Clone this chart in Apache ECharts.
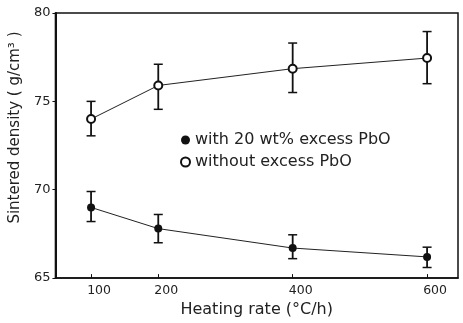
<!DOCTYPE html>
<html><head><meta charset="utf-8">
<script src="https://cdn.jsdelivr.net/npm/echarts@6/dist/echarts.min.js"></script>
<style>html,body{margin:0;padding:0;background:#fff}#c{width:463px;height:323px}</style>
</head><body><div id="c"></div>
<script>
var rates = [100, 200, 400, 600];
var xTicks = [100, 200, 400, 600];
var withPbO = [69.0, 67.8, 66.7, 66.2];
var withPbOLow = [68.2, 67.0, 66.1, 65.6];
var withPbOHigh = [69.9, 68.6, 67.45, 66.75];
var withoutPbO = [74.0, 75.9, 76.85, 77.45];
var withoutPbOLow = [73.05, 74.55, 75.5, 76.0];
var withoutPbOHigh = [75.0, 77.1, 78.3, 78.95];
var seriesNames = ['with 20 wt% excess PbO', 'without excess PbO'];

function pairs(xs, ys){ return xs.map(function(x,i){return [x, ys[i]];}); }
function errData(xs, lo, hi){ return xs.map(function(x,i){return [x, lo[i], hi[i]];}); }
function errRender(params, api){
  var x = api.value(0);
  var lo = api.coord([x, api.value(1)]);
  var hi = api.coord([x, api.value(2)]);
  var w = 4.5;
  var st = {stroke:'#111', lineWidth:1.8};
  var cs = {stroke:'#111', lineWidth:1.5};
  return {type:'group', children:[
    {type:'line', shape:{x1:lo[0],y1:lo[1],x2:hi[0],y2:hi[1]}, style:st},
    {type:'line', shape:{x1:lo[0]-w,y1:lo[1],x2:lo[0]+w,y2:lo[1]}, style:cs},
    {type:'line', shape:{x1:hi[0]-w,y1:hi[1],x2:hi[0]+w,y2:hi[1]}, style:cs}
  ]};
}
var font = 'DejaVu Sans, Verdana, sans-serif';
var chart = echarts.init(document.getElementById('c'), null, {renderer:'canvas'});
chart.setOption({
  animation:false,
  backgroundColor:'#fff',
  grid:{left:52, right:5, top:13, bottom:40, show:true, borderColor:'#111', borderWidth:1.5},
  legend:{
    orient:'vertical', left:180, top:132, padding:0, itemGap:6, itemWidth:9, itemHeight:9,
    textStyle:{fontFamily:font, fontSize:16, color:'#222'},
    data:[{name:seriesNames[0], icon:'circle'},{name:seriesNames[1], icon:'emptyCircle'}]
  },
  xAxis:{
    type:'value', min:47, max:646,
    name:'Heating rate (\u00b0C/h)', nameLocation:'middle', nameGap:22,
    nameTextStyle:{fontFamily:font, fontSize:16, color:'#222'},
    axisLine:{lineStyle:{color:'#111', width:1.5}},
    axisTick:{inside:true, length:4, customValues:xTicks, lineStyle:{color:'#111'}},
    axisLabel:{customValues:xTicks, fontFamily:font, fontSize:12.5, color:'#222', margin:6, padding:[0,0,0,16]},
    splitLine:{show:false}
  },
  yAxis:{
    type:'value', min:65, max:80, interval:5,
    name:'Sintered density ( g/cm\u00b3 )', nameLocation:'middle', nameGap:27,
    nameTextStyle:{fontFamily:font, fontSize:15, color:'#222', padding:[0,0,0,36]},
    axisLine:{lineStyle:{color:'#111', width:2}},
    axisTick:{inside:false, length:3, lineStyle:{color:'#111'}},
    axisLabel:{fontFamily:font, fontSize:13, color:'#222', margin:5},
    splitLine:{show:false}
  },
  series:[
    {name:seriesNames[0], type:'line', data:pairs(rates, withPbO), symbol:'circle', symbolSize:8,
     itemStyle:{color:'#111'}, lineStyle:{color:'#222', width:1}, z:3},
    {name:seriesNames[1], type:'line', data:pairs(rates, withoutPbO), symbol:'emptyCircle', symbolSize:8,
     itemStyle:{color:'#111', borderColor:'#111', borderWidth:1.3}, lineStyle:{color:'#222', width:1}, z:3},
    {type:'custom', renderItem:errRender, data:errData(rates, withPbOLow, withPbOHigh), z:2},
    {type:'custom', renderItem:errRender, data:errData(rates, withoutPbOLow, withoutPbOHigh), z:2}
  ]
});
</script></body></html>
